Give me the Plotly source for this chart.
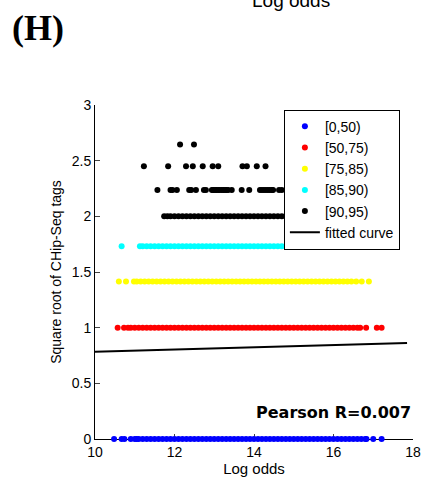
import plotly.graph_objects as go

# ---- data ----
series_names = ["[0,50)", "[50,75)", "[75,85)", "[85,90)", "[90,95)"]
series_colors = ["#0000FF", "#FF0000", "#FFFF00", "#00FFFF", "#000000"]

blue_x = [10.48, 10.67, 10.74, 10.9, 11.0, 11.05,
          11.1, 11.2, 11.3, 11.4, 11.5, 11.6, 11.7, 11.8, 11.9, 12.0,
          12.1, 12.2, 12.3, 12.4, 12.5, 12.6, 12.7, 12.8, 12.9, 13.0,
          13.1, 13.2, 13.3, 13.4, 13.5, 13.6, 13.7, 13.8, 13.9, 14.0,
          14.1, 14.2, 14.3, 14.4, 14.5, 14.6, 14.7, 14.8, 14.9, 15.0,
          15.1, 15.2, 15.3, 15.4, 15.5, 15.6, 15.7, 15.8, 15.9, 16.0,
          16.1, 16.2, 16.3, 16.4, 16.5, 16.6, 16.7, 16.8, 16.83, 17.0, 17.21]
blue_y = [0.0] * len(blue_x)

red_x = [10.57, 10.73, 10.83, 10.9,
         11.0, 11.1, 11.2, 11.3, 11.4, 11.5, 11.6, 11.7, 11.8, 11.9, 12.0,
         12.1, 12.2, 12.3, 12.4, 12.5, 12.6, 12.7, 12.8, 12.9, 13.0,
         13.1, 13.2, 13.3, 13.4, 13.5, 13.6, 13.7, 13.8, 13.9, 14.0,
         14.1, 14.2, 14.3, 14.4, 14.5, 14.6, 14.7, 14.8, 14.9, 15.0,
         15.1, 15.2, 15.3, 15.4, 15.5, 15.6, 15.7, 15.8, 15.9, 16.0,
         16.1, 16.2, 16.3, 16.4, 16.5, 16.6, 16.67, 16.82, 17.09, 17.21]
red_y = [1.0] * len(red_x)

yellow_x = [10.6, 10.78, 10.98,
            11.05, 11.15, 11.25, 11.35, 11.45, 11.55, 11.65, 11.75, 11.85, 11.95,
            12.05, 12.15, 12.25, 12.35, 12.45, 12.55, 12.65, 12.75, 12.85, 12.95,
            13.05, 13.15, 13.25, 13.35, 13.45, 13.55, 13.65, 13.75, 13.85, 13.95,
            14.05, 14.15, 14.25, 14.35, 14.45, 14.55, 14.65, 14.75, 14.85, 14.95,
            15.05, 15.15, 15.25, 15.35, 15.45, 15.55, 15.65, 15.75, 15.85, 15.95,
            16.05, 16.15, 16.25, 16.35, 16.45, 16.57, 16.71, 16.89]
yellow_y = [1.414] * len(yellow_x)

cyan_x = [10.67, 11.13,
          11.2, 11.3, 11.4, 11.5, 11.6, 11.7, 11.8, 11.9, 12.0,
          12.1, 12.2, 12.3, 12.4, 12.5, 12.6, 12.7, 12.8, 12.9, 13.0,
          13.1, 13.2, 13.3, 13.4, 13.5, 13.6, 13.7, 13.8, 13.9, 14.0,
          14.1, 14.2, 14.3, 14.4, 14.5, 14.6, 14.7, 14.8, 14.9, 15.0,
          15.1, 15.2, 15.3, 15.4, 15.5, 15.6, 15.7, 15.8, 15.9, 16.0,
          16.1, 16.2, 16.3, 16.42, 16.57, 16.74]
cyan_y = [1.732] * len(cyan_x)

black_x = [11.74, 11.82,
           11.9, 12.0, 12.1, 12.2, 12.3, 12.4, 12.5, 12.6, 12.7, 12.8, 12.9, 13.0,
           13.1, 13.2, 13.3, 13.4, 13.5, 13.6, 13.7, 13.8, 13.9, 14.0,
           14.1, 14.2, 14.3, 14.4, 14.5, 14.6, 14.7, 14.8, 14.9, 15.0,
           15.1, 15.2, 15.3, 15.4, 15.5, 15.6, 15.7, 15.8, 15.9, 16.0,
           16.1, 16.2, 16.3, 16.4, 16.5,
           11.57, 11.90, 11.95, 12.06, 12.37, 12.42, 12.54, 12.74, 12.79, 12.94,
           12.98, 13.02, 13.06, 13.10, 13.14, 13.19, 13.23, 13.27, 13.31, 13.35,
           13.44, 13.69, 13.88, 14.15, 14.20, 14.25, 14.30, 14.35, 14.40, 14.45,
           14.48, 14.63, 14.70, 14.85, 15.1,
           11.23, 11.84, 12.29, 12.46, 12.71, 12.96, 13.10, 13.71, 13.82, 14.07, 14.29,
           12.14, 12.49]
black_y = ([2.0] * 49) + ([2.236] * 35) + ([2.449] * 11) + ([2.646] * 2)

fit_x = [10.0, 17.85]
fit_y = [0.784, 0.863]

pearson_text = "Pearson R=0.007"
x_ticks = [10, 12, 14, 16, 18]
y_ticks = [0, 0.5, 1, 1.5, 2, 2.5, 3]

FONT = "Arial, 'Liberation Sans', sans-serif"

fig = go.Figure()
all_x = [blue_x, red_x, yellow_x, cyan_x, black_x]
all_y = [blue_y, red_y, yellow_y, cyan_y, black_y]
for name, col, xs, ys in zip(series_names, series_colors, all_x, all_y):
    fig.add_trace(go.Scatter(
        x=xs, y=ys, mode="markers", name=name,
        marker=dict(color=col, size=6, line=dict(width=0)),
        cliponaxis=False,
    ))

fig.add_trace(go.Scatter(
    x=fit_x, y=fit_y, mode="lines", name="fitted curve",
    line=dict(color="black", width=2),
))

fig.update_layout(
    width=425, height=480,
    margin=dict(l=95, r=12, t=105, b=41),
    paper_bgcolor="white", plot_bgcolor="white",
    font=dict(family=FONT, size=13, color="black"),
    showlegend=True,
    legend=dict(
        x=0.594, y=0.986, xanchor="left", yanchor="top",
        bordercolor="black", borderwidth=1, bgcolor="white",
        font=dict(family=FONT, size=14),
        tracegroupgap=0,
    ),
    xaxis=dict(
        range=[10, 18], tickvals=x_ticks, ticks="inside", ticklen=5,
        showline=True, linecolor="black", linewidth=1, mirror=False,
        showgrid=False, zeroline=False, layer="below traces",
        title=dict(text="Log odds", standoff=2, font=dict(size=15)),
        tickfont=dict(size=14), automargin=False,
    ),
    yaxis=dict(
        range=[0, 3], tickvals=y_ticks, ticks="inside", ticklen=5,
        showline=True, linecolor="black", linewidth=1, mirror=False,
        showgrid=False, zeroline=False, layer="below traces",
        title=dict(text="Square root of CHip-Seq tags", standoff=6, font=dict(size=14)),
        tickfont=dict(size=14), automargin=False,
    ),
    annotations=[
        dict(text="<b>" + pearson_text + "</b>", x=18, y=0.235, xref="x", yref="y",
             xanchor="right", yanchor="middle", showarrow=False,
             font=dict(family="'DejaVu Sans', Verdana, sans-serif", size=16, color="black")),
        dict(text="<b>(H)</b>", x=-0.267, y=1.231, xref="paper", yref="paper",
             xanchor="left", yanchor="middle", showarrow=False,
             font=dict(family="'Times New Roman', 'Liberation Serif', serif", size=36, color="black")),
        dict(text="Log odds", x=0.616, y=1.313, xref="paper", yref="paper",
             xanchor="center", yanchor="middle", showarrow=False,
             font=dict(family=FONT, size=19, color="black")),
    ],
)

fig.write_html("out.html")
